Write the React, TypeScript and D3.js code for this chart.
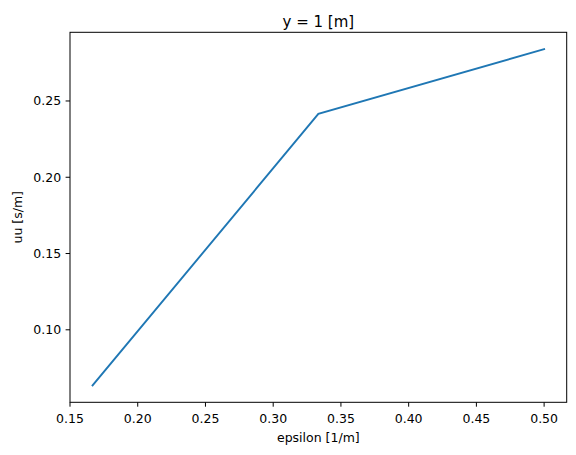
import React from "react";
import * as d3 from "d3";

const epsilon = [1 / 6, 1 / 3, 1 / 2];
const uu = [0.0635, 0.2415, 0.284];
const xTicks = [0.15, 0.2, 0.25, 0.3, 0.35, 0.4, 0.45, 0.5];
const yTicks = [0.1, 0.15, 0.2, 0.25];
const title = "y = 1 [m]";
const xLabel = "epsilon [1/m]";
const yLabel = "uu [s/m]";

export default function App() {
  const W = 576, H = 455;
  const L = 70, R = 566.7, T = 32.3, B = 402.3;
  const xmin = d3.min(epsilon)!, xmax = d3.max(epsilon)!;
  const ymin = d3.min(uu)!, ymax = d3.max(uu)!;
  const mx = (xmax - xmin) * 0.05, my = (ymax - ymin) * 0.05;
  const x = d3.scaleLinear().domain([xmin - mx, xmax + mx]).range([L, R]);
  const y = d3.scaleLinear().domain([ymin - my, ymax + my]).range([B, T]);
  const line = d3.line<number>().x((_, i) => x(epsilon[i])).y((d) => y(d));
  const font = "DejaVu Sans, sans-serif";
  return (
    <svg width={W} height={H} style={{ position: "absolute", left: 0, top: 0, background: "#fff" }} fontFamily={font}>
      <path d={line(uu)!} fill="none" stroke="#1f77b4" strokeWidth={1.9} strokeLinecap="square" />
      <rect x={L} y={T} width={R - L} height={B - T} fill="none" stroke="#000" strokeWidth={1} />
      {xTicks.map((t) => (
        <g key={t}>
          <line x1={x(t)} x2={x(t)} y1={B} y2={B + 4.4} stroke="#000" />
          <text x={x(t)} y={B + 20.5} textAnchor="middle" fontSize={12.5}>{t.toFixed(2)}</text>
        </g>
      ))}
      {yTicks.map((t) => (
        <g key={t}>
          <line x1={L - 4.4} x2={L} y1={y(t)} y2={y(t)} stroke="#000" />
          <text x={L - 8.8} y={y(t) + 4.5} textAnchor="end" fontSize={12.5}>{t.toFixed(2)}</text>
        </g>
      ))}
      <text x={(L + R) / 2} y={442} textAnchor="middle" fontSize={12.5}>{xLabel}</text>
      <text transform={`translate(${21.7},${(T + B) / 2}) rotate(-90)`} textAnchor="middle" fontSize={12.5}>{yLabel}</text>
      <text x={(L + R) / 2} y={T - 5.3} textAnchor="middle" fontSize={15}>{title}</text>
    </svg>
  );
}
